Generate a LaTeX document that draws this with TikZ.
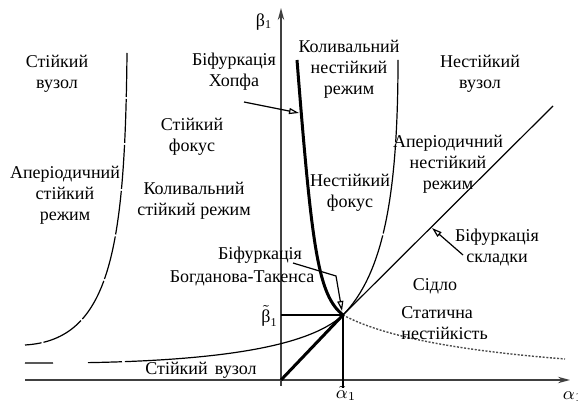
\documentclass[tikz,border=0pt]{standalone}
\usepackage{fontspec}
\setmainfont{Liberation Serif}
\usetikzlibrary{arrows.meta}
\begin{document}
\begin{tikzpicture}[x=0.5pt,y=-0.5pt,
  lbl/.style={font=\fontsize{9}{10.5}\selectfont, align=center, inner sep=0pt, text=black},
  thinline/.style={line width=0.6pt},
  thickline/.style={line width=1.5pt},
  axisline/.style={line width=0.7pt, black!75, -{Stealth[length=6pt,width=3.2pt]}},
  ptr/.style={line width=0.6pt, -{Triangle[open,length=5pt,width=3pt]}},
  dotline/.style={line width=0.7pt, black!70, dash pattern=on 1pt off 0.8pt},
  longdash/.style={thinline, dash pattern=on 22pt off 1pt},
  lowdash/.style={thinline, dash pattern=on 14pt off 17.5pt on 17pt off 1.5pt on 300pt off 0pt}
]
\useasboundingbox (0,0) rectangle (578,405);

% key coordinates
\coordinate (O) at (281,380);
\coordinate (P) at (343,315);
\coordinate (D) at (553,106);
\coordinate (yb) at (281,386);
\coordinate (yt) at (281,8);
\coordinate (xl) at (25,380);
\coordinate (xr) at (570,380);
\coordinate (bt) at (281,315);
\coordinate (ab) at (343,388);
\coordinate (hT) at (297,60);
\coordinate (sE) at (565,359);
\coordinate (lL) at (25,363);
\coordinate (uT) at (398,60);
\coordinate (lT) at (127,53);
\coordinate (lB) at (25,345);

% axes
\draw[axisline] (yb) -- (yt);
\draw[axisline] (xl) -- (xr);

% curves
\draw[longdash] (lT) .. controls (125,250) and (110,340) .. (lB);
\draw[lowdash] (lL) .. controls (200,364) and (305,350) .. (P);
\draw[thinline, dash pattern=on 45pt off 1pt] (P) .. controls (382,275) and (398,200) .. (uT);
\draw[thickline] (hT) .. controls (312,250) and (318,295) .. (P);
\draw[dotline] (P) .. controls (380,335) and (450,350) .. (sE);
\draw[thickline] (O) -- (P);
\draw[thinline] (P) -- (D);
\draw[thinline] (bt) -- (P);
\draw[thinline] (P) -- (ab);

% axis labels
\node[lbl] (b1) at (264,22) {β\textsubscript{1}};
\node[lbl, anchor=east] (bt1lab) at (278,316) {$\tilde{\mbox{β}}_{\mbox{\fontsize{6}{7}\selectfont 1}}$};
\node[lbl, anchor=north] (at1lab) at (346,386) {$\tilde{\alpha}_1$};
\node[lbl] (a1) at (573,397) {$\alpha_1$};

% region labels
\node[lbl] (sv1) at (57,74) {Стійкий\\вузол};
\node[lbl] (ass) at (65,195) {Аперіодичний\\стійкий\\режим};
\node[lbl] (sf) at (192,137) {Стійкий\\фокус};
\node[lbl] (ksr) at (194,201) {Коливальний\\стійкий режим};
\node[lbl] (bh) at (234,72) {Біфуркація\\Хопфа};
\node[lbl] (knr) at (349,69) {Коливальний\\нестійкий\\режим};
\node[lbl] (nv) at (480,74) {Нестійкий\\вузол};
\node[lbl] (anr) at (448,164) {Аперіодичний\\нестійкий\\режим};
\node[lbl] (nf) at (350,193) {Нестійкий\\фокус};
\node[lbl] (btA) at (260,255) {Біфуркація};
\node[lbl] (btB) at (242,278) {Богданова-Такенса};
\node[lbl] (bs) at (497,247) {Біфуркація\\складки};
\node[lbl] (sd) at (435,286) {Сідло};
\node[lbl, align=left, anchor=west] (sn) at (401,323) {Статична\\нестійкість};
\node[lbl] (sv2) at (201,370) {Стійкий\hspace{0.4em}вузол};

% pointer arrows
\coordinate (hA) at (244,102);
\coordinate (hB) at (299,113);
\draw[ptr] (hA) -- (hB);
\coordinate (bp1) at (293,263);
\coordinate (bp2) at (336,276);
\coordinate (bp3) at (342,311);
\draw[ptr] (bp1) -- (bp2) -- (bp3);
\coordinate (fA) at (463,255);
\coordinate (fB) at (432,228);
\draw[ptr] (fA) -- (fB);
\end{tikzpicture}
\end{document}
